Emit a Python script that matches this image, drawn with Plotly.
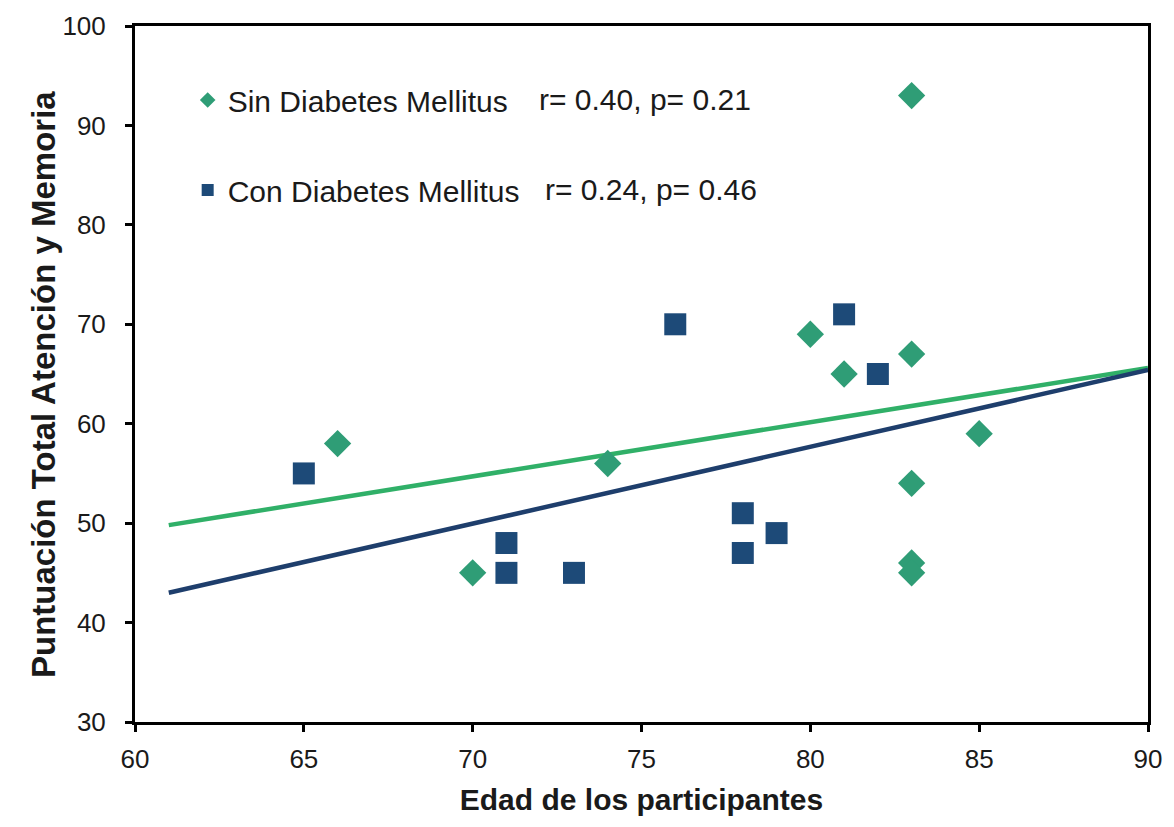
import plotly.graph_objects as go

# Participants without diabetes mellitus
sin_edad = [66, 70, 74, 80, 81, 83, 83, 83, 83, 83, 85]
sin_puntuacion = [58, 45, 56, 69, 65, 67, 93, 54, 46, 45, 59]

# Participants with diabetes mellitus
con_edad = [65, 71, 71, 73, 76, 78, 78, 79, 81, 82]
con_puntuacion = [55, 48, 45, 45, 70, 51, 47, 49, 71, 65]

# Linear trend lines (end points over the age range)
trend_edad = [61, 90]
sin_tendencia = [49.8, 65.6]
con_tendencia = [43.0, 65.4]

sin_stats = "r= 0.40, p= 0.21"
con_stats = "r= 0.24, p= 0.46"

x_ticks = [60, 65, 70, 75, 80, 85, 90]
y_ticks = [30, 40, 50, 60, 70, 80, 90, 100]

GREEN_MARK = "#2F9D76"
GREEN_LINE = "#30B068"
BLUE_MARK = "#1D4A78"
BLUE_LINE = "#1E3E6C"
FONT = "Liberation Sans, Arial, sans-serif"
TEXT = "#1a1a1a"

fig = go.Figure()

fig.add_trace(go.Scatter(
    x=trend_edad, y=sin_tendencia, mode="lines",
    line=dict(color=GREEN_LINE, width=4.5), showlegend=False, hoverinfo="skip"))
fig.add_trace(go.Scatter(
    x=trend_edad, y=con_tendencia, mode="lines",
    line=dict(color=BLUE_LINE, width=4.5), showlegend=False, hoverinfo="skip"))

fig.add_trace(go.Scatter(
    x=con_edad, y=con_puntuacion, mode="markers", name="Con Diabetes Mellitus",
    marker=dict(symbol="square", size=22, color=BLUE_MARK), legend="legend2"))
fig.add_trace(go.Scatter(
    x=sin_edad, y=sin_puntuacion, mode="markers", name="Sin Diabetes Mellitus",
    marker=dict(symbol="diamond", size=21, color=GREEN_MARK), legend="legend"))

legend_style = dict(
    font=dict(family=FONT, size=30, color=TEXT),
    bgcolor="rgba(0,0,0,0)", itemsizing="constant",
    xanchor="left", yanchor="middle", x=0.052)
fig.update_layout(
    legend=dict(y=0.8937, **legend_style),
    legend2=dict(y=0.7644, **legend_style),
)

fig.add_annotation(text=sin_stats, xref="paper", yref="paper", x=0.3968, y=0.8937,
                   xanchor="left", yanchor="middle", showarrow=False,
                   font=dict(family=FONT, size=30, color=TEXT))
fig.add_annotation(text=con_stats, xref="paper", yref="paper", x=0.4028, y=0.7644,
                   xanchor="left", yanchor="middle", showarrow=False,
                   font=dict(family=FONT, size=30, color=TEXT))

# Vertical axis title
fig.add_annotation(text="<b>Puntuación Total Atención y Memoria</b>",
                   xref="paper", yref="paper", x=-0.0898, y=0.4842,
                   xanchor="center", yanchor="middle", textangle=-90, showarrow=False,
                   font=dict(family=FONT, size=33, color=TEXT))

axis_common = dict(
    showline=True, linecolor="black", linewidth=3, mirror=True,
    ticks="outside", ticklen=7, tickwidth=2.5, tickcolor="black",
    showgrid=False, zeroline=False,
    tickfont=dict(family=FONT, size=26, color=TEXT),
)

fig.update_xaxes(
    range=[60, 90], tickvals=x_ticks, ticklabelstandoff=5,
    title=dict(text="<b>Edad de los participantes</b>",
               font=dict(family=FONT, size=30, color=TEXT), standoff=16),
    **axis_common)
fig.update_yaxes(
    range=[30, 100], tickvals=y_ticks, ticklabelstandoff=14,
    **axis_common)

fig.update_layout(
    width=1174, height=827,
    margin=dict(l=135, r=26, t=26, b=105),
    plot_bgcolor="white", paper_bgcolor="white",
)

fig.write_html("out.html")
